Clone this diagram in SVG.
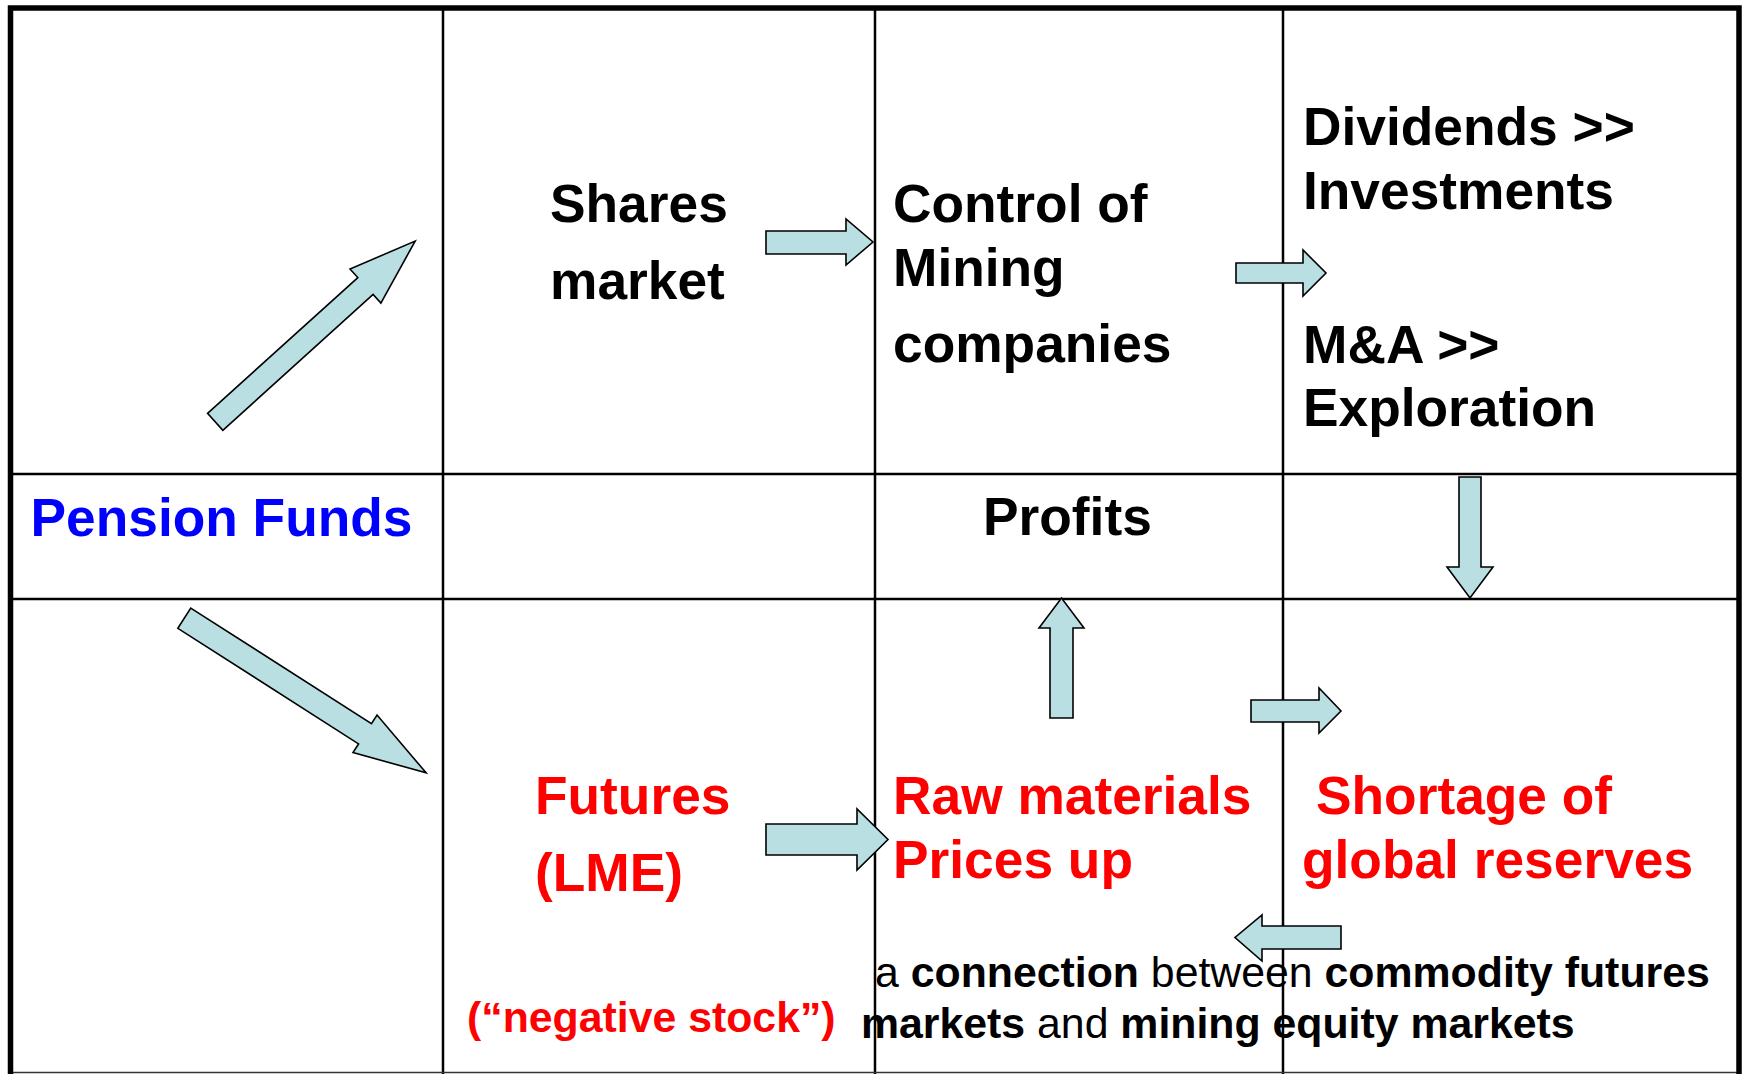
<svg xmlns="http://www.w3.org/2000/svg" width="1746" height="1074" viewBox="0 0 1746 1074">
<style>
.t{font-family:"Liberation Sans",Arial,sans-serif;font-weight:bold;font-size:53.3px;fill:#000}
.s{font-family:"Liberation Sans",Arial,sans-serif;font-size:42.8px;fill:#000}
.b{font-weight:bold}
.red{fill:#FF0000}
.blue{fill:#0000FF}
.grid{stroke:#000;stroke-width:2.5;fill:none}
.arr{fill:#B9DFE2;stroke:#000;stroke-width:1.6;stroke-linejoin:miter}
</style>
<rect width="1746" height="1074" fill="#fff"/>
<g id="grid">
<line class="grid" x1="443" y1="8" x2="443" y2="1074"/>
<line class="grid" x1="875" y1="8" x2="875" y2="1074"/>
<line class="grid" x1="1283" y1="8" x2="1283" y2="1074"/>
<line class="grid" x1="11" y1="474" x2="1739" y2="474"/>
<line class="grid" x1="11" y1="599" x2="1739" y2="599"/>
<line x1="11" y1="1072.5" x2="1739" y2="1072.5" stroke="#333" stroke-width="1.5"/>
<path d="M10.5 1074 V8 H1739 V1074" fill="none" stroke="#000" stroke-width="5.5"/>
</g>
<g id="pension-funds"><text class="t blue" x="30.5" y="536">Pension Funds</text></g>
<g id="shares-market"><text class="t" x="550" y="222">Shares</text><text class="t" x="550" y="299">market</text></g>
<g id="control-mining"><text class="t" x="893" y="222">Control of</text><text class="t" x="893" y="286">Mining</text><text class="t" x="893" y="362">companies</text></g>
<g id="dividends"><text class="t" x="1303" y="145">Dividends &gt;&gt;</text><text class="t" x="1303" y="209">Investments</text></g>
<g id="ma"><text class="t" x="1303" y="363">M&amp;A &gt;&gt;</text><text class="t" x="1303" y="426">Exploration</text></g>
<g id="profits"><text class="t" x="983" y="535">Profits</text></g>
<g id="futures"><text class="t red" x="535" y="814">Futures</text><text class="t red" x="535" y="891">(LME)</text></g>
<g id="negative-stock"><text class="s b red" x="467" y="1032">(“negative stock”)</text></g>
<g id="raw-materials"><text class="t red" x="893" y="814">Raw materials</text><text class="t red" x="893" y="878">Prices up</text></g>
<g id="shortage"><text class="t red" x="1316" y="814">Shortage of</text><text class="t red" x="1302" y="878">global reserves</text></g>
<g id="caption">
<text class="s" x="875" y="987">a <tspan class="b">connection</tspan> between <tspan class="b">commodity futures</tspan></text>
<text class="s" x="861" y="1038"><tspan class="b">markets</tspan> and <tspan class="b">mining equity markets</tspan></text>
</g>
<g id="connectors">
<polygon class="arr" transform="translate(215.2,421.8) rotate(-42.1)" points="0,-11.4 202.5,-11.4 202.5,-23 269.5,0 202.5,23 202.5,11.4 0,11.4"/>
<polygon class="arr" transform="translate(184.3,618.2) rotate(32.6)" points="0,-12 214.5,-12 214.5,-22.3 287,0 214.5,22.3 214.5,12 0,12"/>
<polygon class="arr" points="766,231 846,231 846,219 873,242 846,265 846,254 766,254"/>
<polygon class="arr" points="1236,263 1303,263 1303,250 1326,273 1303,296 1303,283 1236,283"/>
<polygon class="arr" points="1459,477 1481,477 1481,567 1493,567 1470,598 1447,567 1459,567"/>
<polygon class="arr" points="1050,718 1050,628 1039,628 1061.5,598 1084,628 1073,628 1073,718"/>
<polygon class="arr" points="1251,700 1319,700 1319,688 1341,711 1319,733 1319,722 1251,722"/>
<polygon class="arr" points="1341,926 1262,926 1262,915 1235,937.5 1262,961 1262,949 1341,949"/>
<polygon class="arr" points="766,824 857,824 857,809 888,839.5 857,870 857,855 766,855"/>
</g>
</svg>
